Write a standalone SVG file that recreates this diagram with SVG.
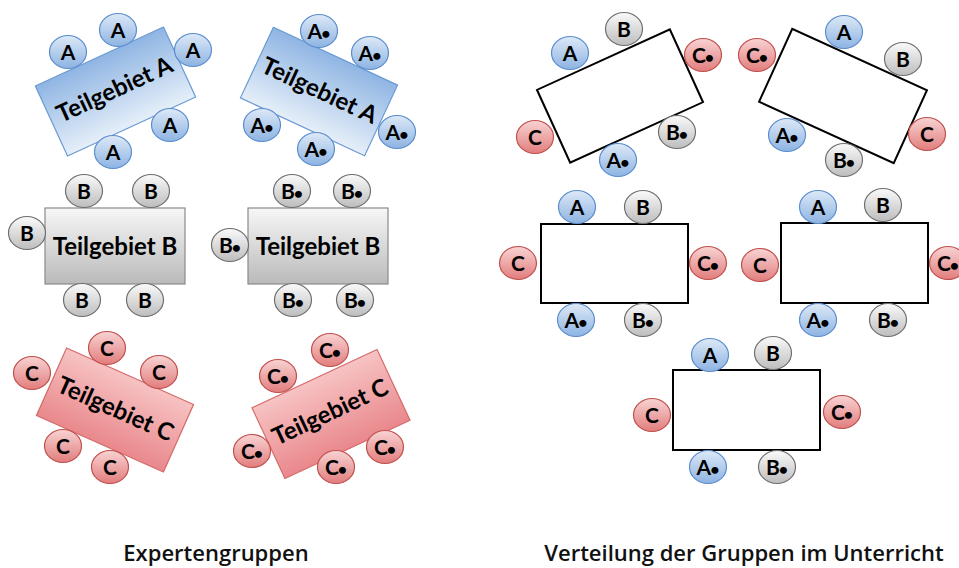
<svg xmlns="http://www.w3.org/2000/svg" width="959" height="568" viewBox="0 0 959 568">
<defs>
<linearGradient id="gsa" x1="0" y1="0" x2="0" y2="1"><stop offset="0" stop-color="#dde9f7"/><stop offset="1" stop-color="#8db3e2"/></linearGradient>
<linearGradient id="gsb" x1="0" y1="0" x2="0" y2="1"><stop offset="0" stop-color="#fafafa"/><stop offset="1" stop-color="#bdbdbd"/></linearGradient>
<linearGradient id="gsc" x1="0" y1="0" x2="0" y2="1"><stop offset="0" stop-color="#f8d3d3"/><stop offset="1" stop-color="#e27d7d"/></linearGradient>
<linearGradient id="gra" x1="0" y1="0" x2="0" y2="1"><stop offset="0" stop-color="#8fb5e3"/><stop offset="1" stop-color="#e6eff9"/></linearGradient>
<linearGradient id="grb" x1="0" y1="0" x2="0" y2="1"><stop offset="0" stop-color="#f7f7f7"/><stop offset="1" stop-color="#bababa"/></linearGradient>
<linearGradient id="grc" x1="0" y1="0" x2="0" y2="1"><stop offset="0" stop-color="#f7c3c3"/><stop offset="1" stop-color="#e9888c"/></linearGradient>
</defs>
<style>
.sa{fill:url(#gsa);stroke:#5b8dcf;stroke-width:1.2}
.sb{fill:url(#gsb);stroke:#6f6f6f;stroke-width:1.2}
.sc{fill:url(#gsc);stroke:#c0504d;stroke-width:1.2}
.ra{fill:url(#gra);stroke:#6a9ad3;stroke-width:1.2}
.rb{fill:url(#grb);stroke:#8a8a8a;stroke-width:1.2}
.rc{fill:url(#grc);stroke:#d46a6a;stroke-width:1.2}
.tb{fill:#ffffff;stroke:#000000;stroke-width:2}
.t{font-family:Lato,"Open Sans",sans-serif;font-weight:700;font-size:21px;fill:#000;text-anchor:middle}
.d{font-size:16px}
.g{font-family:Lato,"Open Sans",sans-serif;font-weight:700;font-size:24px;fill:#000;text-anchor:middle}
.cap{font-family:"Open Sans",sans-serif;font-weight:600;font-size:22px;fill:#111;text-anchor:middle}
</style>

<g id="connectors"/>

<!-- Left panel: Expertengruppen -->
<g id="gruppe-A1">
<g transform="translate(115.5,91.5) rotate(-24.7)"><rect class="ra" x="-70.5" y="-38.5" width="141" height="77"/><text class="g" x="0" y="6">Teilgebiet A</text></g>
<g id="a1-1"><ellipse class="sa" cx="118" cy="30" rx="18.5" ry="16.5"/><text class="t" x="118" y="37.5">A</text></g>
<g id="a1-2"><ellipse class="sa" cx="68" cy="52" rx="18.5" ry="16.5"/><text class="t" x="68" y="59.5">A</text></g>
<g id="a1-3"><ellipse class="sa" cx="193" cy="50" rx="18.5" ry="16.5"/><text class="t" x="193" y="57.5">A</text></g>
<g id="a1-4"><ellipse class="sa" cx="170" cy="125" rx="18.5" ry="16.5"/><text class="t" x="170" y="132.5">A</text></g>
<g id="a1-5"><ellipse class="sa" cx="113" cy="152" rx="18.5" ry="16.5"/><text class="t" x="113" y="159.5">A</text></g>
</g>

<g id="gruppe-A2">
<g transform="translate(319,91.5) rotate(25)"><rect class="ra" x="-68.5" y="-39" width="137" height="78"/><text class="g" x="0" y="7">Teilgebiet A</text></g>
<g id="a2-1"><ellipse class="sa" cx="319" cy="31" rx="18.5" ry="16.5"/><text class="t" x="319" y="38.5">A<tspan class="d" dx="-1">•</tspan></text></g>
<g id="a2-2"><ellipse class="sa" cx="370" cy="53" rx="18.5" ry="16.5"/><text class="t" x="370" y="60.5">A<tspan class="d" dx="-1">•</tspan></text></g>
<g id="a2-3"><ellipse class="sa" cx="262" cy="125" rx="18.5" ry="16.5"/><text class="t" x="262" y="132.5">A<tspan class="d" dx="-1">•</tspan></text></g>
<g id="a2-4"><ellipse class="sa" cx="316" cy="149" rx="18.5" ry="16.5"/><text class="t" x="316" y="156.5">A<tspan class="d" dx="-1">•</tspan></text></g>
<g id="a2-5"><ellipse class="sa" cx="397" cy="132" rx="18.5" ry="16.5"/><text class="t" x="397" y="139.5">A<tspan class="d" dx="-1">•</tspan></text></g>
</g>

<g id="gruppe-B1">
<rect class="rb" x="45" y="208" width="140" height="76"/><text class="g" x="115" y="254.5">Teilgebiet B</text>
<g id="b1-1"><ellipse class="sb" cx="84" cy="191" rx="18.5" ry="16.5"/><text class="t" x="84" y="198.5">B</text></g>
<g id="b1-2"><ellipse class="sb" cx="151" cy="191" rx="18.5" ry="16.5"/><text class="t" x="151" y="198.5">B</text></g>
<g id="b1-3"><ellipse class="sb" cx="27" cy="233" rx="18.5" ry="16.5"/><text class="t" x="27" y="240.5">B</text></g>
<g id="b1-4"><ellipse class="sb" cx="82" cy="300" rx="18.5" ry="16.5"/><text class="t" x="82" y="307.5">B</text></g>
<g id="b1-5"><ellipse class="sb" cx="145" cy="300" rx="18.5" ry="16.5"/><text class="t" x="145" y="307.5">B</text></g>
</g>

<g id="gruppe-B2">
<rect class="rb" x="248" y="208" width="140" height="76"/><text class="g" x="318" y="254.5">Teilgebiet B</text>
<g id="b2-1"><ellipse class="sb" cx="292" cy="191" rx="18.5" ry="16.5"/><text class="t" x="292" y="198.5">B<tspan class="d" dx="-1">•</tspan></text></g>
<g id="b2-2"><ellipse class="sb" cx="352" cy="191" rx="18.5" ry="16.5"/><text class="t" x="352" y="198.5">B<tspan class="d" dx="-1">•</tspan></text></g>
<g id="b2-3"><ellipse class="sb" cx="230" cy="245" rx="18.5" ry="16.5"/><text class="t" x="230" y="252.5">B<tspan class="d" dx="-1">•</tspan></text></g>
<g id="b2-4"><ellipse class="sb" cx="293" cy="300" rx="18.5" ry="16.5"/><text class="t" x="293" y="307.5">B<tspan class="d" dx="-1">•</tspan></text></g>
<g id="b2-5"><ellipse class="sb" cx="355" cy="300" rx="18.5" ry="16.5"/><text class="t" x="355" y="307.5">B<tspan class="d" dx="-1">•</tspan></text></g>
</g>

<g id="gruppe-C1">
<g transform="translate(115,410) rotate(24)"><rect class="rc" x="-69.5" y="-37" width="139" height="74"/><text class="g" x="0" y="7">Teilgebiet C</text></g>
<g id="c1-1"><ellipse class="sc" cx="107" cy="348" rx="18.5" ry="16.5"/><text class="t" x="107" y="355.5">C</text></g>
<g id="c1-2"><ellipse class="sc" cx="32" cy="373" rx="18.5" ry="16.5"/><text class="t" x="32" y="380.5">C</text></g>
<g id="c1-3"><ellipse class="sc" cx="159" cy="372" rx="18.5" ry="16.5"/><text class="t" x="159" y="379.5">C</text></g>
<g id="c1-4"><ellipse class="sc" cx="63" cy="446" rx="18.5" ry="16.5"/><text class="t" x="63" y="453.5">C</text></g>
<g id="c1-5"><ellipse class="sc" cx="110" cy="467" rx="18.5" ry="16.5"/><text class="t" x="110" y="474.5">C</text></g>
</g>

<g id="gruppe-C2">
<g transform="translate(331,414) rotate(-25)"><rect class="rc" x="-69" y="-39" width="138" height="78"/><text class="g" x="0" y="6">Teilgebiet C</text></g>
<g id="c2-1"><ellipse class="sc" cx="330" cy="350" rx="18.5" ry="16.5"/><text class="t" x="330" y="357.5">C<tspan class="d" dx="-1">•</tspan></text></g>
<g id="c2-2"><ellipse class="sc" cx="278" cy="376" rx="18.5" ry="16.5"/><text class="t" x="278" y="383.5">C<tspan class="d" dx="-1">•</tspan></text></g>
<g id="c2-3"><ellipse class="sc" cx="252" cy="451" rx="18.5" ry="16.5"/><text class="t" x="252" y="458.5">C<tspan class="d" dx="-1">•</tspan></text></g>
<g id="c2-4"><ellipse class="sc" cx="336" cy="467" rx="18.5" ry="16.5"/><text class="t" x="336" y="474.5">C<tspan class="d" dx="-1">•</tspan></text></g>
<g id="c2-5"><ellipse class="sc" cx="385" cy="447" rx="18.5" ry="16.5"/><text class="t" x="385" y="454.5">C<tspan class="d" dx="-1">•</tspan></text></g>
</g>

<!-- Right panel: Verteilung -->
<g id="tisch-1">
<rect class="tb" x="-73" y="-40" width="146" height="80" transform="translate(620,96) rotate(-24.5)"/>
<g><ellipse class="sb" cx="624" cy="29" rx="18.5" ry="16.5"/><text class="t" x="624" y="36.5">B</text></g>
<g><ellipse class="sa" cx="570" cy="53" rx="18.5" ry="16.5"/><text class="t" x="570" y="60.5">A</text></g>
<g><ellipse class="sc" cx="703" cy="55" rx="18.5" ry="16.5"/><text class="t" x="703" y="62.5">C<tspan class="d" dx="-1">•</tspan></text></g>
<g><ellipse class="sc" cx="535" cy="137" rx="18.5" ry="16.5"/><text class="t" x="535" y="144.5">C</text></g>
<g><ellipse class="sb" cx="677" cy="132" rx="18.5" ry="16.5"/><text class="t" x="677" y="139.5">B<tspan class="d" dx="-1">•</tspan></text></g>
<g><ellipse class="sa" cx="618" cy="160" rx="18.5" ry="16.5"/><text class="t" x="618" y="167.5">A<tspan class="d" dx="-1">•</tspan></text></g>
</g>

<g id="tisch-2">
<rect class="tb" x="-74" y="-40" width="148" height="80" transform="translate(843,96) rotate(24.5)"/>
<g><ellipse class="sa" cx="844" cy="32" rx="18.5" ry="16.5"/><text class="t" x="844" y="39.5">A</text></g>
<g><ellipse class="sc" cx="757" cy="55" rx="18.5" ry="16.5"/><text class="t" x="757" y="62.5">C<tspan class="d" dx="-1">•</tspan></text></g>
<g><ellipse class="sb" cx="903" cy="59" rx="18.5" ry="16.5"/><text class="t" x="903" y="66.5">B</text></g>
<g><ellipse class="sa" cx="787" cy="135" rx="18.5" ry="16.5"/><text class="t" x="787" y="142.5">A<tspan class="d" dx="-1">•</tspan></text></g>
<g><ellipse class="sc" cx="927" cy="134" rx="18.5" ry="16.5"/><text class="t" x="927" y="141.5">C</text></g>
<g><ellipse class="sb" cx="844" cy="160" rx="18.5" ry="16.5"/><text class="t" x="844" y="167.5">B<tspan class="d" dx="-1">•</tspan></text></g>
</g>

<g id="tisch-3">
<rect class="tb" x="541" y="224" width="147" height="79"/>
<g><ellipse class="sa" cx="577" cy="207" rx="18.5" ry="16.5"/><text class="t" x="577" y="214.5">A</text></g>
<g><ellipse class="sb" cx="643" cy="207" rx="18.5" ry="16.5"/><text class="t" x="643" y="214.5">B</text></g>
<g><ellipse class="sc" cx="518" cy="263" rx="18.5" ry="16.5"/><text class="t" x="518" y="270.5">C</text></g>
<g><ellipse class="sc" cx="708" cy="263" rx="18.5" ry="16.5"/><text class="t" x="708" y="270.5">C<tspan class="d" dx="-1">•</tspan></text></g>
<g><ellipse class="sa" cx="576" cy="320" rx="18.5" ry="16.5"/><text class="t" x="576" y="327.5">A<tspan class="d" dx="-1">•</tspan></text></g>
<g><ellipse class="sb" cx="643" cy="320" rx="18.5" ry="16.5"/><text class="t" x="643" y="327.5">B<tspan class="d" dx="-1">•</tspan></text></g>
</g>

<g id="tisch-4">
<rect class="tb" x="781" y="223" width="147" height="80"/>
<g><ellipse class="sa" cx="818" cy="207" rx="18.5" ry="16.5"/><text class="t" x="818" y="214.5">A</text></g>
<g><ellipse class="sb" cx="883" cy="205" rx="18.5" ry="16.5"/><text class="t" x="883" y="212.5">B</text></g>
<g><ellipse class="sc" cx="760" cy="265" rx="18.5" ry="16.5"/><text class="t" x="760" y="272.5">C</text></g>
<g><ellipse class="sc" cx="948" cy="263" rx="18.5" ry="16.5"/><text class="t" x="948" y="270.5">C<tspan class="d" dx="-1">•</tspan></text></g>
<g><ellipse class="sa" cx="818" cy="320" rx="18.5" ry="16.5"/><text class="t" x="818" y="327.5">A<tspan class="d" dx="-1">•</tspan></text></g>
<g><ellipse class="sb" cx="888" cy="320" rx="18.5" ry="16.5"/><text class="t" x="888" y="327.5">B<tspan class="d" dx="-1">•</tspan></text></g>
</g>

<g id="tisch-5">
<rect class="tb" x="673" y="370" width="147" height="80"/>
<g><ellipse class="sa" cx="710" cy="355" rx="18.5" ry="16.5"/><text class="t" x="710" y="362.5">A</text></g>
<g><ellipse class="sb" cx="773" cy="353" rx="18.5" ry="16.5"/><text class="t" x="773" y="360.5">B</text></g>
<g><ellipse class="sc" cx="652" cy="415" rx="18.5" ry="16.5"/><text class="t" x="652" y="422.5">C</text></g>
<g><ellipse class="sc" cx="842" cy="412" rx="18.5" ry="16.5"/><text class="t" x="842" y="419.5">C<tspan class="d" dx="-1">•</tspan></text></g>
<g><ellipse class="sa" cx="708" cy="467" rx="18.5" ry="16.5"/><text class="t" x="708" y="474.5">A<tspan class="d" dx="-1">•</tspan></text></g>
<g><ellipse class="sb" cx="777" cy="467" rx="18.5" ry="16.5"/><text class="t" x="777" y="474.5">B<tspan class="d" dx="-1">•</tspan></text></g>
</g>

<g id="beschriftung">
<text class="cap" x="216" y="561">Expertengruppen</text>
<text class="cap" x="744" y="561">Verteilung der Gruppen im Unterricht</text>
</g>
</svg>
